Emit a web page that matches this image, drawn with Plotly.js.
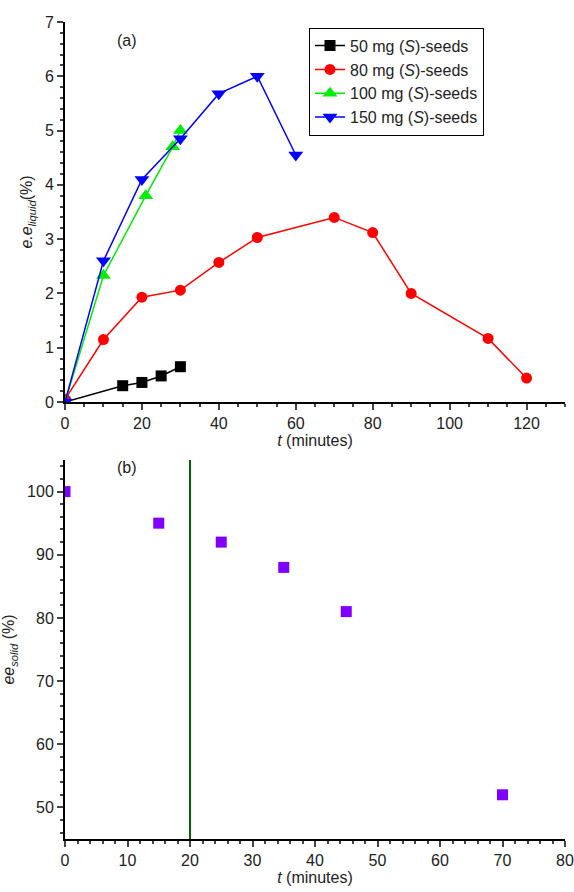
<!DOCTYPE html><html><head><script src="https://cdn.plot.ly/plotly-3.0.1.min.js"></script></head><body style="margin:0"><div id="p" style="width:574px;height:892px"></div><script>
const x50=[0,15,20,25,30], y50=[0,0.3,0.36,0.48,0.65];
const x80=[0,10,20,30,40,50,70,80,90,110,120], y80=[0.05,1.15,1.93,2.06,2.57,3.03,3.4,3.12,2.0,1.17,0.44];
const x100=[0,10,21,28,30], y100=[0,2.33,3.8,4.7,5.0];
const x150=[0,10,20,30,40,50,60], y150=[0,2.6,4.1,4.85,5.68,6.0,4.55];
const xs=[0,15,25,35,45,70], ys=[100,95,92,88,81,52];
const vline=20;
const f={family:"Liberation Sans, Arial",size:16,color:"#222"};
function tr(x,y,c,s,n){return {x,y,name:n,mode:'lines+markers',line:{color:c,width:1.5},marker:{symbol:s,color:c,size:s.includes('triangle')?13:11},xaxis:'x',yaxis:'y'};}
const data=[tr(x50,y50,'#000','square','50 mg (<i>S</i>)-seeds'),tr(x80,y80,'#ff0000','circle','80 mg (<i>S</i>)-seeds'),tr(x100,y100,'#00ee00','triangle-up','100 mg (<i>S</i>)-seeds'),tr(x150,y150,'#0000ff','triangle-down','150 mg (<i>S</i>)-seeds'),
{x:xs,y:ys,mode:'markers',marker:{symbol:'square',color:'#8000ff',size:11},xaxis:'x2',yaxis:'y2',showlegend:false},
{x:[vline,vline],y:[45,105],mode:'lines',line:{color:'#006400',width:2},xaxis:'x2',yaxis:'y2',showlegend:false}];
const ax={showline:true,linewidth:2,linecolor:'#000',ticks:'outside',ticklen:6,tickwidth:1.5,showgrid:false,zeroline:false,tickfont:f};
const layout={width:574,height:892,margin:{l:65,r:9,t:22,b:53},paper_bgcolor:'#fff',plot_bgcolor:'#fff',font:f,
xaxis:Object.assign({},ax,{range:[0,130],dtick:20,minor:{ticks:'outside',ticklen:3,dtick:5},anchor:'y',title:{text:'<i>t</i> (minutes)',font:f,standoff:2}}),
yaxis:Object.assign({},ax,{range:[0,7],dtick:1,domain:[0.5349,1],minor:{ticks:'outside',ticklen:3,dtick:0.2},anchor:'x',title:{text:'<i>e.e<sub>liquid</sub></i>(%)',font:f,standoff:8}}),
xaxis2:Object.assign({},ax,{range:[0,80],dtick:10,minor:{ticks:'outside',ticklen:3,dtick:2},anchor:'y2',title:{text:'<i>t</i> (minutes)',font:f,standoff:2}}),
yaxis2:Object.assign({},ax,{range:[45,105],dtick:10,domain:[0,0.4639],minor:{ticks:'outside',ticklen:3,dtick:2},anchor:'x2',title:{text:'<i>ee<sub>solid</sub></i> (%)',font:f,standoff:8}}),
legend:{x:0.488,xanchor:'left',y:0.993,yanchor:'top',bordercolor:'#000',borderwidth:1,font:f,tracegroupgap:0},
annotations:[{text:'(a)',x:0.1,y:0.99,xref:'paper',yref:'paper',showarrow:false,font:f},{text:'(b)',x:0.1,y:0.455,xref:'paper',yref:'paper',showarrow:false,font:f}]};
Plotly.newPlot('p',data,layout,{displayModeBar:false});
</script></body></html>
